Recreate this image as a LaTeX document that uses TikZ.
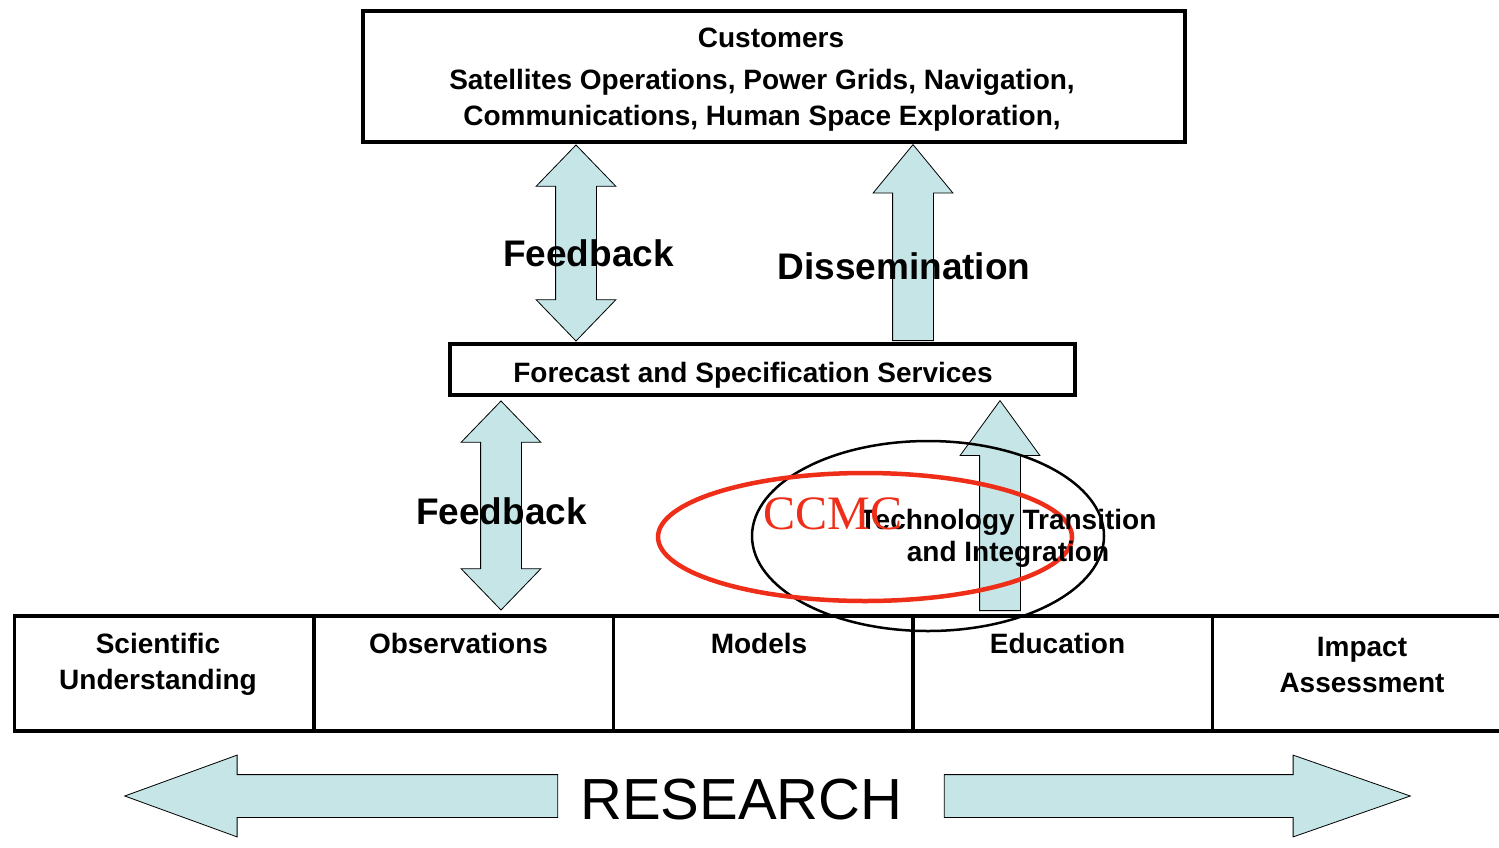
\documentclass[tikz,border=0pt]{standalone}
\usepackage{fontspec}
\setmainfont{Liberation Sans}
\newfontfamily\ccmcfont{Liberation Serif}
\usetikzlibrary{positioning,calc,shapes.arrows,shapes.geometric}
\definecolor{shaftblue}{RGB}{197,229,231}
\definecolor{ccmcred}{RGB}{238,46,24}
\begin{document}
\begin{tikzpicture}[x=1pt, y=-1pt,
    box/.style = {draw, line width=4pt, outer sep=0pt, inner sep=0pt},
    cell/.style = {draw, line width=3.5pt, outer sep=0pt, inner sep=0pt, minimum width=299.5pt, minimum height=115pt},
    txt/.style = {inner sep=0pt, align=center, font=\fontsize{28}{36}\selectfont\bfseries},
    bigtxt/.style = {inner sep=0pt, font=\fontsize{37}{44}\selectfont\bfseries},
    blockarrow/.style = {single arrow, draw, line width=0.8pt, fill=shaftblue, inner xsep=0pt, inner ysep=20pt, minimum width=0pt, single arrow head extend=19.5pt},
    upward/.style = {blockarrow, rotate=90, anchor=tail},
    twoway/.style = {double arrow, draw, line width=0.8pt, fill=shaftblue, inner xsep=0pt, inner ysep=20pt, minimum width=0pt, double arrow head extend=19.5pt, double arrow tip angle=88, rotate=90}]
\useasboundingbox (0,0) rectangle (1499,847);
\fill[white] (0,0) rectangle (1499,847);

\coordinate (col1) at (576,0);
\coordinate (col2) at (913,0);
\coordinate (col3) at (501,0);
\coordinate (col4) at (1000,0);

\node[box, minimum width=822pt, minimum height=131pt] (cust) at (774,76.5) {};
\node[box, minimum width=625pt, minimum height=51pt] (fss) at (762.5,369.5) {};

\node[cell] (sci) at (164,673.5) {};
\node[cell, right=0pt of sci] (obs) {};
\node[cell, right=0pt of obs] (mod) {};
\node[cell, right=0pt of mod] (edu) {};
\node[cell, right=0pt of edu] (imp) {};

\node[twoway, minimum height=196pt] (fbup) at ($(cust.south -| col1)!0.5!(fss.north -| col1)$) {};
\node[upward, minimum height=196pt, single arrow tip angle=79] (diss) at ([yshift=3pt]fss.north -| col2) {};
\node[twoway, minimum height=209pt] (fbdown) at ($(fss.south -| col3)!0.5!(obs.north -| col3)$) {};
\node[upward, minimum height=210pt, single arrow tip angle=72] (tti) at ([yshift=5pt]edu.north -| col4) {};

\node[txt] (custtitle) at (771,38) {Customers};
\node[txt] (custlist) at (762,100) {Satellites Operations, Power Grids, Navigation,\\Communications, Human Space Exploration,};
\node[txt] (fsstxt) at (753,375) {Forecast and Specification Services};

\node[txt, below=17pt of sci.north, xshift=-6pt] (scitxt) {Scientific\\Understanding};
\node[txt, below=17pt of obs.north, xshift=-5pt] (obstxt) {Observations};
\node[txt, below=17pt of mod.north, xshift=-4pt] (modtxt) {Models};
\node[txt, below=17pt of edu.north, xshift=-5pt] (edutxt) {Education};
\node[txt, below=21pt of imp.north] (imptxt) {Impact\\Assessment};

\node[ellipse, draw, line width=2.5pt, minimum width=352pt, minimum height=190pt, inner sep=0pt] (ttiring) at (928,536) {};
\node[ellipse, draw=ccmcred, line width=4.5pt, minimum width=414pt, minimum height=128pt, inner sep=0pt] (ccmcring) at (865,537) {};

\node[bigtxt] (fbtxt1) at (588.5,253) {Feedback};
\node[bigtxt] (disstxt) at (904,266) {Dissemination};
\node[bigtxt] (fbtxt2) at (501.5,511) {Feedback};
\node[txt, font=\fontsize{28}{32}\selectfont\bfseries] (ttitxt) at (1008,538.5) {Technology Transition\\and Integration};
\node[inner sep=0pt, text=ccmcred, font=\ccmcfont\fontsize{48}{52}\selectfont] (ccmc) at (833,514) {CCMC};

\node[inner sep=0pt, font=\fontsize{58}{64}\selectfont] (research) at (741.5,800) {RESEARCH};
\node[blockarrow, rotate=180, anchor=tail, inner ysep=21pt, minimum height=433pt, single arrow tip angle=40] (resleft) at ([xshift=-22pt,yshift=4pt]research.west) {};
\node[blockarrow, anchor=tail, inner ysep=21pt, minimum height=466pt, single arrow tip angle=38.5] (resright) at ([xshift=41pt,yshift=4pt]research.east) {};
\end{tikzpicture}
\end{document}
